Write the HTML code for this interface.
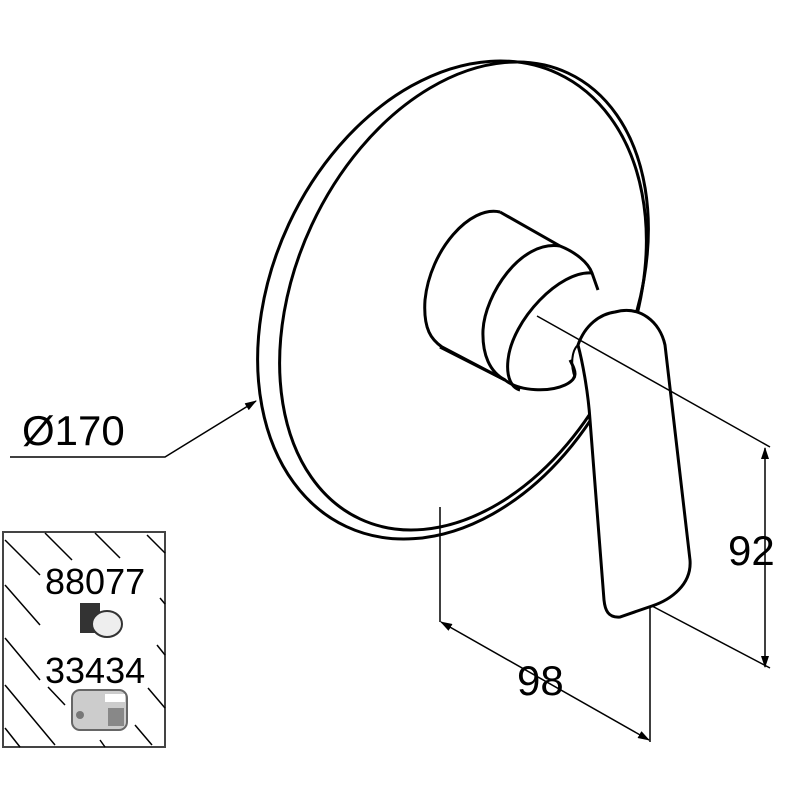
<!DOCTYPE html><html><head><style>body{margin:0;background:#fff}svg{display:block}</style></head><body>
<svg width="800" height="800" viewBox="0 0 800 800" xmlns="http://www.w3.org/2000/svg" font-family="Liberation Sans, sans-serif">
<defs><marker id="a" markerWidth="12" markerHeight="8" refX="11" refY="4" orient="auto-start-reverse" markerUnits="userSpaceOnUse"><path d="M0,0 L12,4 L0,8z" fill="#000"/></marker></defs>
<g fill="none" stroke="#000" stroke-width="3">
<ellipse cx="452" cy="300" rx="250" ry="180" transform="rotate(-65 452 300)" fill="#fff"/>
<ellipse cx="464" cy="296" rx="246" ry="168" transform="rotate(-65 464 296)"/>
<path d="M500,212 C470,205 430,250 425,300 C423,330 432,340 442,347 L505,380 C520,392 550,392 565,385 C580,378 575,370 570,360" fill="#fff"/>
<path d="M500,212 L560,246 C575,252 588,262 592,273 L598,290"/>
<path d="M560,246 C520,240 485,295 483,330 C482,355 490,372 505,380"/>
<path d="M592,273 C560,270 512,320 508,360 C506,378 512,388 520,390"/>
<path d="M505,380 L440,347" />
<path d="M615,312 C640,305 660,322 665,345 L690,560 C692,585 670,600 652,606 L620,617 C608,618 605,610 604,600 L590,420 C588,390 582,360 578,345 C585,325 600,314 615,312Z" fill="#fff"/>
<path d="M578,345 C572,350 570,365 575,378" stroke-width="2"/>
</g>
<g stroke="#000" stroke-width="1.5" fill="none">
<line x1="537" y1="316" x2="770" y2="447"/>
<line x1="652" y1="606" x2="770" y2="668"/>
<line x1="765" y1="448" x2="765" y2="667" marker-start="url(#a)" marker-end="url(#a)"/>
<line x1="440" y1="507" x2="440" y2="622"/>
<line x1="650" y1="606" x2="650" y2="742"/>
<line x1="441" y1="622" x2="649" y2="740" marker-start="url(#a)" marker-end="url(#a)"/>
<polyline points="10,457 165,457 256,401" marker-end="url(#a)"/>
</g>
<text x="728" y="565" font-size="42">92</text>
<text x="517" y="695" font-size="42">98</text>
<text x="22" y="445" font-size="42">Ø170</text>
<rect x="3" y="532" width="162" height="215" fill="none" stroke="#444" stroke-width="2"/>
<g stroke="#000" stroke-width="1.5">
<line x1="5" y1="540" x2="40" y2="575"/><line x1="45" y1="533" x2="72" y2="560"/><line x1="95" y1="533" x2="120" y2="558"/><line x1="147" y1="535" x2="165" y2="553"/>
<line x1="5" y1="585" x2="40" y2="625"/><line x1="160" y1="598" x2="165" y2="604"/>
<line x1="5" y1="638" x2="40" y2="680"/><line x1="157" y1="645" x2="165" y2="655"/>
<line x1="5" y1="685" x2="55" y2="745"/><line x1="48" y1="687" x2="65" y2="705"/><line x1="148" y1="688" x2="165" y2="708"/>
<line x1="5" y1="728" x2="20" y2="747"/><line x1="135" y1="725" x2="152" y2="745"/><line x1="100" y1="740" x2="105" y2="747"/>
</g>
<text x="45" y="594" font-size="36">88077</text>
<text x="45" y="683" font-size="36">33434</text>
<rect x="80" y="603" width="20" height="30" fill="#333"/>
<ellipse cx="107" cy="624" rx="15" ry="13" fill="#eee" stroke="#333" stroke-width="2"/>
<rect x="72" y="690" width="55" height="40" rx="8" fill="#ccc" stroke="#666" stroke-width="2"/>
<rect x="108" y="708" width="16" height="18" fill="#888"/>
<rect x="105" y="694" width="20" height="8" fill="#fff"/>
<circle cx="80" cy="715" r="4" fill="#777"/>
</svg></body></html>
